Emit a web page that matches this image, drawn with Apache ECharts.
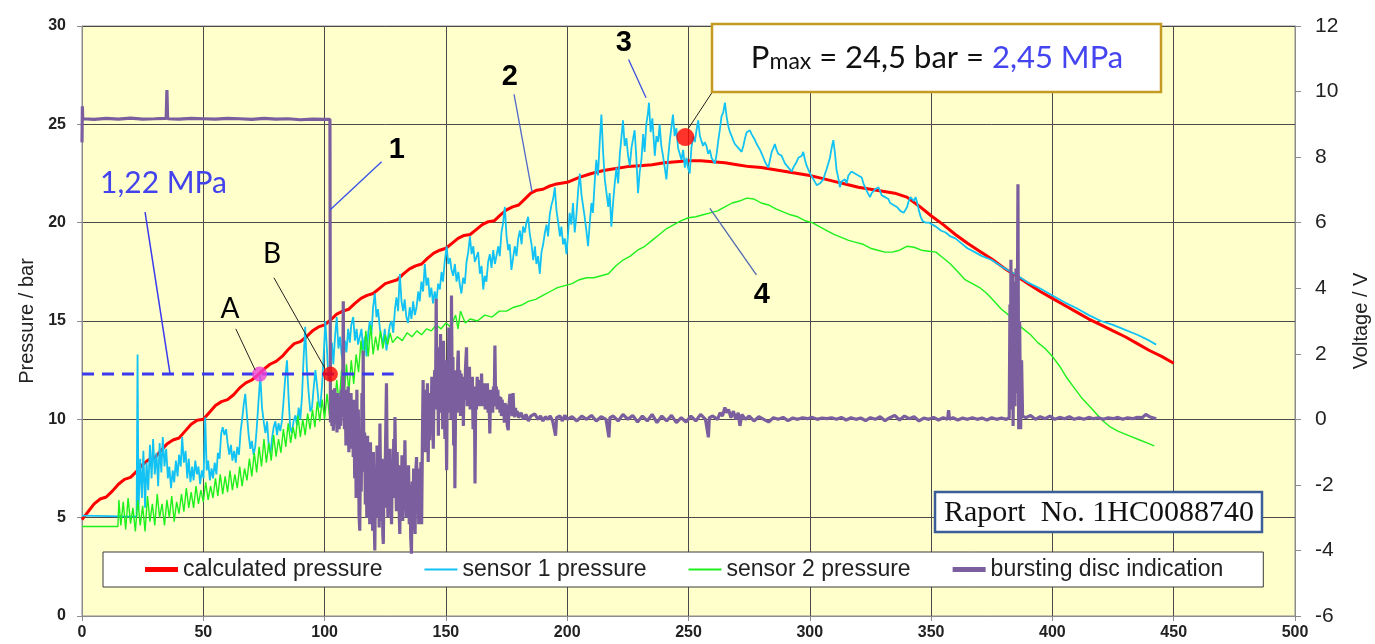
<!DOCTYPE html>
<html><head><meta charset="utf-8">
<script src="https://cdn.jsdelivr.net/npm/echarts@6/dist/echarts.min.js"></script>
<style>html,body{margin:0;padding:0;background:#fff;overflow:hidden}#c{width:1375px;height:644px}</style>
</head><body><div id="c"></div>
<script>
// ---- data: [time s, value] ----
const calcPressure = [[0,4.9],[2.5,5.3],[5,5.7],[7.5,5.95],[10,6.05],[12.5,6.35],[15,6.7],[17.5,6.95],[20,7.05],[22.5,7.35],[25,7.7],[27.5,7.95],[30,8.05],[32.5,8.4],[35,8.75],[37.5,8.95],[40,9.05],[42.5,9.4],[45,9.75],[47.5,9.95],[50,10.0],[52.5,10.35],[55,10.7],[57.5,10.9],[60,11.0],[62.5,11.25],[65,11.6],[67.5,11.85],[70,12.0],[72.5,12.25],[75,12.55],[77.5,12.8],[80,12.95],[82.5,13.2],[85,13.55],[87.5,13.85],[90,13.95],[92.5,14.2],[95,14.5],[97.5,14.7],[100,14.8],[102.5,15.05],[105,15.35],[107.5,15.5],[110,15.6],[112.5,15.9],[115,16.15],[117.5,16.3],[120,16.4],[122.5,16.65],[125,16.9],[127.5,17.0],[130,17.1],[132.5,17.4],[135,17.65],[137.5,17.8],[140,17.9],[142.5,18.2],[145,18.45],[147.5,18.6],[150,18.7],[152.5,18.95],[155,19.2],[157.5,19.35],[160,19.4],[162.5,19.65],[165,19.9],[167.5,20.05],[170,20.1],[172.5,20.4],[175,20.65],[177.5,20.8],[180,20.9],[182.5,21.2],[185,21.5],[187.5,21.65],[190,21.7],[192.5,21.85],[195,21.95],[197.5,22.0],[200,22.05],[205,22.3],[210,22.5],[215,22.65],[220,22.75],[225,22.85],[230,22.9],[235,22.95],[240,23.05],[245,23.1],[250,23.15],[255,23.15],[260,23.1],[265,23.05],[270,22.95],[275,22.85],[280,22.8],[285,22.7],[290,22.6],[295,22.5],[300,22.4],[305,22.25],[310,22.1],[315,21.95],[320,21.8],[325,21.7],[330,21.6],[335,21.5],[340,21.3],[345,20.85],[350,20.35],[355,19.9],[360,19.4],[365,18.95],[370,18.55],[375,18.15],[380,17.7],[385,17.3],[390,16.9],[395,16.5],[400,16.15],[405,15.8],[410,15.45],[415,15.1],[420,14.8],[425,14.5],[430,14.2],[435,13.85],[440,13.5],[445,13.2],[450,12.85]];

const sensor1Pressure = [[0,5.1],[22.5,5.05],[22.9,13.3],[23.3,5.4],[24,8.0],[24.7,6.0],[25.3,8.4],[26,5.5],[26.6,7.8],[27.3,6.4],[28,8.7],[28.7,7.0],[29.3,9.0],[30,7.2],[30.7,8.3],[31.4,6.6],[32,8.8],[32.7,7.3],[33.3,9.1],[34,7.6],[34.7,8.5],[35.4,7.0],[36,7.6],[36.7,6.5],[37.4,7.4],[38,6.8],[38.7,7.9],[39.4,7.1],[40,8.2],[40.7,7.6],[41.3,9.1],[42,7.8],[42.7,8.4],[43.4,7.0],[44,8.0],[44.7,6.8],[45.4,7.6],[46,6.9],[46.7,7.9],[47.4,7.2],[48,7.6],[48.7,6.7],[49.4,7.4],[50.1,7.0],[50.8,10.1],[51.4,7.4],[52,7.9],[52.7,6.9],[53.4,7.5],[54,7.0],[54.7,7.8],[55.4,7.2],[56,8.3],[56.7,8.0],[57.4,9.3],[58,9.6],[58.7,9.2],[59.4,9.5],[60,8.8],[60.7,8.2],[61.4,8.7],[62,7.9],[62.7,8.4],[63.4,7.8],[64,8.6],[64.7,8.2],[65.4,9.4],[66,10.0],[66.7,10.8],[67.3,11.3],[68,10.2],[68.7,9.2],[69.4,8.5],[70,8.9],[70.7,8.2],[71.4,8.6],[72,9.5],[72.7,10.8],[73.5,12.25],[74.2,10.6],[75,9.8],[75.6,9.3],[76.3,9.9],[77,8.6],[77.7,8.3],[78.3,9.0],[79,9.6],[79.7,9.9],[80.4,9.2],[81,9.8],[81.7,9.4],[82.4,9.9],[83,10.8],[83.7,12.0],[84.5,13.0],[85.2,11.0],[85.8,9.6],[86.5,9.3],[87.2,9.9],[88,10.2],[88.6,9.7],[89.3,10.6],[90,10.0],[90.7,11.2],[91.3,13.0],[92,14.7],[92.7,12.6],[93.4,11.4],[94.1,10.4],[94.8,10.6],[95.5,11.6],[96.2,12.5],[96.9,11.7],[97.6,10.8],[98.2,10.6],[99,11.8],[99.6,13.2],[100.3,15.0],[101,13.5],[101.6,12.0],[102.3,12.3],[103,13.9],[103.6,12.8],[104.3,14.2],[105,15.2],[105.7,13.6],[106.4,14.2],[107,13.3],[107.7,12.8],[108.4,14.0],[109,13.4],[109.7,14.6],[110.4,13.9],[111,14.8],[111.8,15.2],[112.5,14.0],[113.2,14.6],[113.8,13.8],[114.5,13.8],[115.2,14.6],[115.9,13.5],[116.6,14.2],[117.3,13.2],[118,14.4],[118.6,15.0],[119.3,14.3],[120,15.7],[120.7,16.4],[121.4,15.2],[122,15.6],[122.8,14.6],[123.5,14.5],[124.1,13.8],[124.8,14.6],[125.5,13.5],[126.2,14.2],[126.9,14.8],[127.6,15.0],[128.3,14.4],[129,15.6],[129.6,16.2],[130.3,15.5],[131,17.4],[131.7,16.0],[132.4,15.5],[133,16.1],[133.7,15.2],[134.4,14.9],[135.1,15.7],[135.8,15.1],[136.5,16.0],[137.2,15.3],[137.9,15.7],[138.6,16.5],[139.2,16.0],[139.9,17.0],[140.6,16.5],[141.3,17.9],[142,16.8],[142.7,17.2],[143.3,16.2],[144,16.7],[144.7,15.9],[145.4,16.5],[146.1,16.0],[146.8,16.9],[147.5,16.6],[148.2,17.5],[148.8,17.0],[149.5,18.0],[150.3,18.8],[151,17.9],[151.7,18.2],[152.3,17.6],[153,17.3],[153.7,17.9],[154.4,17.0],[155.1,17.5],[155.8,16.8],[156.4,16.4],[157.1,17.2],[157.8,16.9],[158.5,18.0],[159.2,18.5],[159.9,19.3],[160.6,18.4],[161.3,18.8],[161.9,18.0],[162.6,17.9],[163.3,18.5],[164,17.4],[164.7,17.8],[165.4,16.6],[166,17.3],[166.7,17.0],[167.4,18.0],[168.1,18.4],[168.8,17.7],[169.5,18.6],[170.2,17.9],[170.9,17.9],[171.6,18.8],[172.2,18.3],[172.9,19.5],[173.6,20.0],[174.3,20.8],[175,19.3],[175.7,18.6],[176.3,18.9],[177,17.6],[177.7,18.2],[178.4,18.8],[179.1,18.3],[179.8,19.2],[180.5,19.6],[181.2,18.9],[181.8,19.8],[182.5,19.5],[183.2,20.0],[183.9,20.3],[184.6,19.4],[185.3,18.9],[186,18.1],[186.7,18.8],[187.3,17.9],[188,18.3],[188.7,17.4],[189.4,18.5],[190.1,18.9],[190.8,19.5],[191.5,19.9],[192.1,19.3],[192.8,20.4],[193.5,20.9],[194.2,21.2],[194.9,21.8],[195.6,20.6],[196.3,20.0],[197,19.3],[197.6,19.8],[198.3,18.9],[199,19.2],[199.7,18.4],[200.4,19.5],[201,20.5],[201.7,19.9],[202.4,21.0],[203.1,19.5],[203.8,20.4],[204.5,21.6],[205.2,22.5],[205.9,21.4],[206.6,21.5],[207.2,20.3],[207.9,19.6],[208.6,18.8],[209.3,20.0],[210,21.0],[210.6,20.5],[211.3,22.0],[212,23.2],[212.7,22.4],[213.4,24.1],[214.1,25.5],[214.8,23.6],[215.5,22.2],[216.2,22.2],[216.9,20.8],[217.5,21.5],[218.2,19.8],[218.9,21.0],[219.6,22.0],[220.3,22.8],[221,22.0],[221.7,23.5],[222.4,24.4],[223,25.2],[223.7,23.9],[224.4,24.3],[225.1,23.4],[225.8,22.9],[226.5,23.8],[227.2,24.3],[227.8,24.7],[228.5,23.3],[229.2,21.5],[229.9,22.6],[230.6,23.2],[231.3,24.5],[231.9,23.6],[232.6,25.0],[233.3,25.6],[233.7,26.1],[234.4,24.6],[235.1,25.3],[235.8,24.0],[236.1,23.4],[236.8,24.4],[237.5,24.1],[238.1,25.0],[238.8,23.9],[239.5,23.4],[240.2,22.8],[240.9,22.2],[241.6,23.3],[242.3,24.2],[243,24.9],[243.6,25.5],[244.3,24.4],[245,24.8],[245.7,23.8],[246.4,23.9],[247.1,23.2],[247.8,23.7],[248.5,22.8],[249.2,23.3],[249.8,22.8],[250.5,22.5],[251.2,23.8],[251.9,24.4],[252.6,24.1],[253.3,24.7],[254,25.2],[254.7,24.4],[255.3,24.3],[256,23.9],[256.7,24.1],[257.4,23.9],[258.1,23.5],[258.8,23.7],[259.5,23.3],[260.2,23.4],[260.9,23.0],[261.6,23.5],[262.3,24.2],[263,24.8],[263.6,25.4],[264.3,25.6],[265,26.1],[265.7,25.4],[266.4,24.9],[267.1,24.6],[267.8,24.4],[268.4,24.2],[269.1,24.0],[269.8,23.9],[270.5,23.8],[271.2,23.7],[271.9,23.6],[272.6,23.9],[273.3,24.3],[274,24.6],[274.6,24.5],[275.3,24.7],[276,24.5],[276.7,24.6],[277.4,24.2],[278.1,24.0],[278.8,23.9],[279.5,23.7],[280.2,23.5],[280.9,23.3],[281.5,23.1],[282.2,23.0],[282.9,22.8],[283.6,23.2],[284.3,23.6],[285,23.8],[285.6,24.0],[286.3,23.7],[287,23.5],[287.7,23.5],[288.4,23.4],[289.1,23.2],[289.8,23.0],[290.5,22.9],[291.2,22.8],[291.9,22.7],[292.5,22.6],[293.2,22.8],[293.9,22.9],[294.6,23.1],[295.3,23.3],[296,23.2],[296.7,23.4],[297.3,23.6],[298,23.2],[298.7,22.9],[299.4,22.7],[300.1,22.5],[300.8,22.4],[301.5,22.2],[302.2,22.1],[302.9,21.9],[303.5,21.8],[304.2,22.0],[304.9,21.9],[305.6,22.2],[306.3,22.5],[306.9,22.7],[307.6,23.0],[308.3,23.3],[309,23.8],[309.7,24.2],[310.4,23.5],[311,22.7],[311.7,22.3],[312.4,21.8],[313.1,22.1],[313.8,22.0],[314.5,22.2],[315.2,22.0],[315.9,22.4],[316.6,22.3],[317.2,22.6],[317.9,22.7],[318.6,22.5],[319.3,22.6],[320,22.4],[320.7,22.5],[321.4,22.3],[322.1,22.0],[322.8,21.8],[323.5,21.6],[324.1,21.5],[324.8,21.3],[325.5,21.5],[326.2,21.6],[326.9,21.7],[327.6,21.6],[328.3,21.8],[329,21.6],[329.6,21.4],[330.3,21.5],[331,21.3],[331.7,21.2],[332.4,21.2],[333.1,21.0],[333.8,21.0],[334.5,20.9],[335.2,20.9],[335.9,20.8],[336.6,20.7],[337.3,20.6],[338,20.5],[338.7,20.5],[339.4,20.6],[340.1,20.8],[340.8,21.1],[341.5,21.3],[342.2,21.4],[342.9,21.1],[343.6,21.3],[344.3,21.0],[345,20.6],[345.7,20.3],[346.4,20.1],[347.1,20.2],[347.8,20.0],[348.5,19.9],[349.2,20.0],[350,19.9],[352,19.8],[354,19.6],[356,19.5],[358,19.3],[360,19.2],[362,19.0],[365,18.7],[368,18.5],[371,18.3],[375,18.1],[380,17.7],[385,17.35],[390,16.95],[395,16.65],[400,16.3],[405,15.95],[410,15.65],[415,15.3],[420,15.0],[425,14.8],[430,14.55],[435,14.3],[440,14.0],[442.8,13.8]];

const sensor2Pressure = [[0,4.55],[14.8,4.55],[15.2,5.9],[16,4.6],[17,5.8],[18,4.4],[19,6.0],[20,4.7],[21,5.5],[22,4.3],[23,5.9],[24,4.6],[25,5.6],[26,4.3],[27,6.1],[28,4.8],[29,5.7],[30,4.6],[31,6.2],[32,5.0],[33,5.7],[34,4.6],[35,5.9],[36,5.0],[37,6.1],[38,4.8],[39,5.8],[40,5.2],[41,6.2],[42,5.3],[43,6.5],[44,5.5],[45,6.3],[46,5.5],[47,6.6],[48,5.7],[49,6.4],[50,5.8],[51,6.8],[52,5.9],[53,6.6],[54,6.0],[55,7.0],[56,6.1],[57,7.2],[58,6.2],[59,7.1],[60,6.3],[61,7.4],[62,6.4],[63,7.2],[64,6.5],[65,7.6],[66,6.6],[67,7.5],[68,6.9],[69,8.0],[70,7.1],[71,8.3],[72,7.3],[73,8.6],[74,7.6],[75,9.0],[76,7.8],[77,8.8],[78,7.9],[79,9.2],[80,8.1],[81,9.0],[82,8.3],[83,9.5],[84,8.6],[85,9.8],[86,8.8],[87,9.6],[88,9.0],[89,10.2],[90,9.1],[91,10.0],[92,9.2],[93,10.3],[94,9.5],[95,10.5],[96,9.6],[97,10.9],[98,9.9],[99,11.0],[100,10.0],[101,11.3],[102,10.2],[103,11.4],[104,10.6],[105,12.0],[106,10.8],[107,12.5],[108,11.0],[109,12.8],[110,11.4],[111,13.0],[112,11.8],[113,13.3],[114,12.4],[115,14.0],[116,12.8],[117,14.5],[118,13.2],[119,14.8],[120,13.3],[121,14.2],[122,13.5],[123,14.5],[124,13.6],[125,14.3],[126,13.8],[127,14.4],[128,13.9],[130,14.2],[132,14.0],[134,14.4],[136,14.2],[138,14.5],[140,14.3],[142,14.6],[144,14.5],[146,14.8],[148,14.6],[150,14.9],[152,14.7],[154,15.3],[155,14.6],[156,15.5],[158,14.9],[160,15.1],[163,15.0],[166,15.3],[169,15.2],[172,15.5],[175,15.5],[178,15.7],[181,15.8],[184,16.0],[187,16.1],[190,16.3],[193,16.5],[196,16.7],[199,16.8],[202,16.9],[205,17.1],[208,17.2],[211,17.2],[214,17.3],[217,17.4],[220,17.8],[223,18.1],[226,18.3],[229,18.6],[232,18.8],[235,19.1],[238,19.4],[241,19.7],[244,19.9],[247,20.1],[250,20.25],[253,20.3],[256,20.4],[259,20.5],[262,20.6],[265,20.8],[268,21.0],[271,21.1],[274,21.25],[277,21.2],[280,21.0],[283,20.9],[286,20.7],[289,20.55],[292,20.4],[295,20.3],[298,20.1],[301,20.0],[304,19.8],[307,19.6],[310,19.4],[313,19.25],[316,19.1],[319,19.0],[322,18.9],[325,18.7],[328,18.6],[331,18.5],[334,18.5],[337,18.6],[340,18.8],[343,18.75],[346,18.6],[349,18.55],[352,18.5],[355,18.2],[358,17.9],[361,17.5],[364,17.1],[367,16.9],[370,16.7],[373,16.4],[376,16.0],[379,15.6],[382,15.3],[385,14.9],[388,14.6],[391,14.3],[394,13.9],[397,13.6],[400,13.2],[403,12.7],[406,12.1],[409,11.6],[412,11.1],[415,10.7],[418,10.3],[421,9.9],[424,9.6],[427,9.4],[430,9.25],[433,9.1],[436,8.95],[439,8.8],[442,8.65]];

const burstingDiscVoltage = [[0,8.45],[0.15,9.55],[0.3,9.17],[5,9.15],[10,9.18],[15,9.16],[20,9.19],[25,9.16],[30,9.17],[34.7,9.18],[35,10.05],[35.3,9.17],[40,9.16],[45,9.18],[50,9.17],[55,9.16],[60,9.18],[65,9.17],[70,9.15],[75,9.18],[80,9.16],[85,9.17],[90,9.14],[95,9.16],[100,9.15],[102.2,9.15],
[102.4,-0.1],[102.7,0.7],[103.0,-0.2],[103.3,0.9],[103.6,-0.35],[103.9,0.5],[104.2,0.95],[104.5,-0.1],[104.8,0.6],[105.1,-0.4],[105.4,0.8],[105.7,0.1],[106.0,-0.3],[106.3,0.7],[106.6,-0.2],[106.9,0.9],[107.2,0.1],[107.5,1.2],[107.7,3.6],[107.9,0.4],[108.2,-0.3],[108.5,0.9],[108.8,-0.8],[109.1,0.5],[109.4,-0.4],[109.7,1.0],[110.0,-1.0],[110.3,0.3],[110.6,-0.6],[110.9,0.8],[111.2,-0.9],[111.5,0.4],[111.8,-1.15],[112.1,0.6],[112.4,-1.8],[112.7,0.2],[113.0,-2.4],[113.3,0.9],[113.6,-1.5],[113.9,0.3],[114.2,-2.9],[114.5,-3.4],[114.8,-0.6],[115.1,-2.2],[115.4,0.8],[115.7,-1.0],[115.9,2.1],[116.2,-1.6],[116.5,-0.4],[116.8,-2.6],[117.1,-0.8],[117.4,-3.0],[117.7,-0.5],[118.0,-2.2],[118.3,-1.0],[118.6,-3.2],[118.9,-0.7],[119.2,-2.5],[119.5,-1.3],[119.8,-3.4],[120.1,-1.0],[120.4,-2.8],[120.7,-4.0],[121.0,-1.5],[121.3,-3.0],[121.6,-0.8],[121.9,-2.9],[122.2,-1.8],[122.5,-3.3],[122.8,-0.13],[123.1,-2.1],[123.4,-3.1],[123.7,-1.2],[124.0,-3.5],[124.2,-3.8],[124.5,-1.6],[124.8,-2.7],[125.1,-0.9],[125.5,1.1],[125.8,-1.4],[126.1,-3.0],[126.4,-1.2],[126.7,-2.7],[127.0,-0.9],[127.3,-2.5],[127.6,-3.2],[127.9,-1.3],[128.2,-2.4],[128.5,-0.6],[128.8,-2.0],[129.0,0.07],[129.3,-1.6],[129.6,-2.8],[129.9,-1.0],[130.2,-2.5],[130.5,-1.4],[130.8,-3.0],[131.0,-3.5],[131.3,-1.6],[131.6,-2.8],[131.9,-1.1],[132.2,-3.1],[132.5,-1.7],[132.8,-2.6],[133.1,-0.64],[133.4,-2.2],[133.7,-3.0],[134.0,-1.5],[134.3,-2.7],[134.6,-1.4],[134.9,-3.2],[135.2,-2.0],[135.5,-3.6],[135.8,-4.1],[136.1,-1.9],[136.4,-3.3],[136.7,-1.5],[137.0,-2.9],[137.3,-3.5],[137.6,-1.6],[137.9,-1.15],[138.2,-2.8],[138.5,-1.5],[138.8,-3.2],[139.1,-2.0],[139.4,-2.6],[139.7,-1.3],[140.0,-3.2],[140.3,-0.8],[140.6,1.2],[140.9,-0.5],[141.2,0.6],[141.5,-1.0],[141.8,0.9],[142.1,-0.3],[142.4,1.1],[142.7,-1.3],[143.0,0.4],[143.3,-0.64],[143.6,0.8],[143.9,-0.4],[144.2,1.3],[144.5,0.2],[144.8,-0.9],[145.1,0.9],[145.4,1.5],[145.7,0.3],[146.0,3.68],[146.3,0.6],[146.6,2.2],[146.9,-0.5],[147.2,1.6],[147.5,0.2],[147.8,2.6],[148.1,0.4],[148.4,1.9],[148.7,-0.3],[149.0,2.4],[149.3,0.7],[149.6,-0.6],[149.9,1.8],[150.3,-1.55],[150.6,1.4],[150.9,0.2],[151.2,2.8],[151.5,0.5],[151.8,1.6],[152.1,0.0],[152.3,3.78],[152.6,0.8],[152.9,1.9],[153.2,-0.8],[153.5,1.2],[153.7,-2.1],[154.0,0.6],[154.3,1.5],[154.6,0.2],[154.9,1.8],[155.1,2.1],[155.4,0.5],[155.7,1.5],[156.0,0.1],[156.3,1.4],[156.6,0.5],[156.9,1.2],[157.2,-0.2],[157.5,1.3],[157.8,0.6],[158.1,1.6],[158.5,2.2],[158.8,0.4],[159.1,1.4],[159.4,0.6],[159.7,1.6],[160.0,0.3],[160.3,1.2],[160.6,0.5],[160.9,1.3],[161.2,-0.3],[161.5,1.0],[161.8,0.3],[162.0,-1.96],[162.3,0.9],[162.6,0.3],[162.9,1.3],[163.2,0.6],[163.5,1.2],[163.8,0.4],[164.1,1.2],[164.4,0.6],[164.7,1.4],[165.0,0.4],[165.3,1.0],[165.6,0.5],[165.9,1.1],[166.2,0.3],[166.5,0.9],[166.8,0.4],[167.1,1.1],[167.4,0.2],[167.7,0.9],[168.1,-0.43],[168.4,0.7],[168.7,0.3],[169.0,0.9],[169.3,0.2],[169.6,1.0],[169.9,0.4],[170.2,2.25],[170.5,0.5],[170.8,1.0],[171.1,0.3],[171.4,0.9],[171.7,0.4],[172.0,0.7],[172.3,0.2],[172.6,0.68],[172.9,0.1],[173.2,0.6],[173.5,0.2],[173.8,0.5],[174.1,-0.1],[174.4,0.5],[174.7,0.1],[175.0,0.45],[175.3,-0.2],[175.7,-0.33],[176.0,0.4],[176.4,0.78],[176.7,0.2],[177.0,0.5],[177.3,0.1],[177.7,0.8],[178.0,0.2],[178.4,0.07],[178.7,0.35],[179.0,0.1],[179.4,0.25],[180.0,0.05],
[181,0.2],[182,0.0],[183,0.15],[184,-0.05],[185,0.1],[186.6,0.17],[188,0.0],[189,0.1],[190,-0.05],[191,0.08],[192,0.0],[193,0.1],[194,-0.05],[195.2,-0.5],[195.6,0.05],[197,0.1],[198,-0.05],[199,0.12],[200,0.0],[202,0.08],[204,-0.05],[206,0.1],[208,0.0],[210,0.12],[212,-0.05],[214,0.08],[216,0.0],[217.2,-0.55],[217.6,0.05],[219,0.1],[221,-0.05],[223,0.15],[225,0.0],[227,0.12],[229,-0.08],[231,0.1],[233,-0.05],[235,0.15],[237,-0.1],[239,0.1],[241,-0.05],[243,0.12],[245,-0.1],[247,0.05],[249,-0.08],[251,0.1],[253,-0.05],[255,0.15],[257,0.0],[258.2,-0.55],[258.6,0.05],[260,0.1],[262,0.0],[263,0.2],[264,0.1],[265,0.36],[265.7,0.2],[266.5,0.3],[267.5,0.05],[268.5,0.25],[269.5,0.0],[270.5,0.2],[271.2,-0.2],[272,0.15],[273.5,0.0],[275,0.1],[277,-0.05],[279,0.08],[281,0.0],[283,-0.08],[285,0.05],[287,0.0],[289,0.06],[291,-0.04],[293,0.04],[295,0.0],[297,0.05],[299,0.02],[301,0.06],[303,0.0],[305,0.04],[307,0.02],[309,0.05],[311,0.0],[313,0.06],[315,-0.02],[317,0.05],[319,0.0],[321,0.04],[323,-0.04],[325,0.05],[327,0.0],[329,0.08],[331,-0.04],[333,0.05],[335,0.12],[337,-0.02],[339,0.1],[341,0.02],[343,0.08],[345,-0.05],[347,0.04],[349,0.0],[351,0.06],[353,-0.02],[355,0.05],[356.8,0.0],[357.2,0.28],[357.6,0.0],[359,0.05],[361,-0.02],[363,0.04],[365,0.0],[367,0.05],[369,0.0],[371,0.04],[373,-0.02],[375,0.05],[377,0.0],[379,0.04],[381,0.0],[382.2,0.05],[382.5,3.5],[382.7,0.3],[382.9,4.87],[383.2,0.8],[383.5,4.4],[383.8,-0.2],[384.2,4.2],[384.6,0.4],[385,4.6],[385.4,0.8],[385.8,7.17],[386.1,-0.3],[386.5,3.0],[386.9,-0.3],[387.3,1.8],[387.7,0.1],[389,0.05],[391,0.12],[393,0.0],[395,0.08],[397,0.02],[399,0.1],[401,0.0],[403,0.06],[405,0.02],[407,0.08],[409,0.0],[411,0.05],[413,0.0],[415,0.06],[417,0.02],[419,0.05],[421,0.0],[423,0.05],[425,0.02],[427,0.06],[429,0.0],[431,0.05],[433,0.02],[435,0.06],[437,0.05],[438.5,0.15],[440,0.08],[442.8,0.02]];

const seriesNames = ['calculated pressure','sensor 1 pressure','sensor 2 pressure','bursting disc indication'];
const refPressure = 12.3;          // 1,22 MPa level (bar)
const refLine = [[0, refPressure], [128.5, refPressure]];
const pointA = [73.2, 12.3];
const pointB = [102.4, 12.3];
const pointPmax = [248.7, 24.35];

// ---- chart ----
const chart = echarts.init(document.getElementById('c'), null, {renderer:'canvas', width:1375, height:644});
const lineCommon = {type:'line', symbol:'none', showSymbol:false, animation:false, silent:true};
const thickIcon = 'path://M0,0L0.01,0M0,14L0.01,14M0,4.5H33V9.5H0Z';
const thinIcon = 'path://M0,0L0.01,0M0,14L0.01,14M0,6H33V8H0Z';
const colors = ['#FF0000','#12C2F4','#1EF01E','#7A5E9E'];
const option = {
  animation:false,
  backgroundColor:'#ffffff',
  grid:{left:82, right:80, top:26, bottom:28, show:true, backgroundColor:'#FFFFCC', borderColor:'#8c8c8c', borderWidth:1, outerBoundsMode:'none', containLabel:false},
  legend:{
    left:103, top:552, orient:'horizontal',
    backgroundColor:'#ffffff', borderColor:'#3a3a3a', borderWidth:1,
    padding:[6,40,6,42], itemGap:42, itemWidth:33, itemHeight:14,
    textStyle:{fontSize:23, fontFamily:'Liberation Sans, Arial, sans-serif', color:'#222'},
    data:[
      {name:seriesNames[0], icon:thickIcon, itemStyle:{color:colors[0], borderWidth:0}},
      {name:seriesNames[1], icon:thinIcon, itemStyle:{color:colors[1], borderWidth:0}},
      {name:seriesNames[2], icon:thinIcon, itemStyle:{color:colors[2], borderWidth:0}},
      {name:seriesNames[3], icon:thickIcon, itemStyle:{color:colors[3], borderWidth:0}}
    ]
  },
  xAxis:{type:'value', min:0, max:500, interval:50,
    axisLine:{show:true, lineStyle:{color:'#8c8c8c'}},
    axisTick:{show:true, length:5, lineStyle:{color:'#8c8c8c'}},
    axisLabel:{fontSize:16, fontWeight:'bold', color:'#222', margin:9, fontFamily:'Liberation Sans, Arial'},
    splitLine:{show:true, lineStyle:{color:'#4a4a4a', width:1}}},
  yAxis:[
    {type:'value', min:0, max:30, interval:5, position:'left',
      name:'Pressure / bar', nameLocation:'middle', nameRotate:90, nameGap:44,
      nameTextStyle:{fontSize:20, color:'#222', fontFamily:'Liberation Sans, Arial'},
      axisLine:{show:true, lineStyle:{color:'#8c8c8c'}},
      axisTick:{show:true, length:5, lineStyle:{color:'#8c8c8c'}},
      axisLabel:{fontSize:16, fontWeight:'bold', color:'#222', margin:16, fontFamily:'Liberation Sans, Arial'},
      splitLine:{show:true, lineStyle:{color:'#4a4a4a', width:1}}},
    {type:'value', min:-6, max:12, interval:2, position:'right',
      name:'Voltage / V', nameLocation:'middle', nameRotate:90, nameGap:56,
      nameTextStyle:{fontSize:20, color:'#222', fontFamily:'Liberation Sans, Arial'},
      axisLine:{show:true, lineStyle:{color:'#8c8c8c'}},
      axisTick:{show:true, length:6, lineStyle:{color:'#8c8c8c'}},
      axisLabel:{fontSize:21, color:'#222', margin:20, fontFamily:'Liberation Sans, Arial'},
      splitLine:{show:false}}
  ],
  series:[
    Object.assign({}, lineCommon, {name:seriesNames[0], data:calcPressure, z:2, lineStyle:{color:colors[0], width:3}, itemStyle:{color:colors[0]}}),
    Object.assign({}, lineCommon, {name:seriesNames[1], data:sensor1Pressure, z:3, lineStyle:{color:colors[1], width:1.8}, itemStyle:{color:colors[1]}}),
    Object.assign({}, lineCommon, {name:seriesNames[2], data:sensor2Pressure, z:3, lineStyle:{color:colors[2], width:1.4}, itemStyle:{color:colors[2]}}),
    Object.assign({}, lineCommon, {name:seriesNames[3], data:burstingDiscVoltage, yAxisIndex:1, z:4, lineStyle:{color:colors[3], width:3.2}, itemStyle:{color:colors[3]}}),
    Object.assign({}, lineCommon, {name:'ref', data:refLine, z:5, lineStyle:{color:'#3B3BEE', width:3, type:[12,8]}}),
    {type:'scatter', name:'points', silent:true, z:6, animation:false,
      data:[
        {value:pointA, symbolSize:15, itemStyle:{color:'#F040D8'}},
        {value:pointB, symbolSize:15, itemStyle:{color:'#FF0000'}},
        {value:pointPmax, symbolSize:18, itemStyle:{color:'#FF0000'}}
      ]}
  ]
};
chart.setOption(option);

// ---- annotations (text anchors and leader lines in data coordinates) ----
const notes = [
  {text:'1', at:[129.8,23.7], font:'bold 29px "Liberation Sans", Arial', color:'#000', leader:[[123.5,23.1],[102.2,20.64]], lc:'#3550E8', lw:1.3},
  {text:'2', at:[176.3,27.4], font:'bold 29px "Liberation Sans", Arial', color:'#000', leader:[[178.1,26.52],[185.5,21.57]], lc:'#5068C8', lw:1.3},
  {text:'3', at:[223.3,29.15], font:'bold 29px "Liberation Sans", Arial', color:'#000', leader:[[225.3,28.3],[232.5,26.35]], lc:'#3A4FE0', lw:1.3},
  {text:'4', at:[280.2,16.3], font:'bold 29px "Liberation Sans", Arial', color:'#000', leader:[[258.8,20.73],[278,17.34]], lc:'#5068B0', lw:1.3},
  {text:'A', at:[61,15.6], font:'28px Lato, "Open Sans", sans-serif', color:'#000', leader:[[63.4,14.6],[71.4,12.5]], lc:'#222', lw:1},
  {text:'B', at:[78.3,18.4], font:'28px Lato, "Open Sans", sans-serif', color:'#000', leader:[[79.1,17.2],[100.1,12.6]], lc:'#222', lw:1},
  {text:'1,22 MPa', at:[33.6,22.0], font:'30px Lato, "Open Sans", sans-serif', color:'#4343EE', leader:[[26,20.54],[36.3,12.3]], lc:'#3B3BEE', lw:1.5}
];
const toPx = v => chart.convertToPixel({xAxisIndex:0, yAxisIndex:0}, v);
const graphics = [];
notes.forEach(n => {
  const a = toPx(n.leader[0]), b = toPx(n.leader[1]);
  graphics.push({type:'line', silent:true, z:100, shape:{x1:a[0], y1:a[1], x2:b[0], y2:b[1]}, style:{stroke:n.lc, lineWidth:n.lw}});
  const p = toPx(n.at);
  graphics.push({type:'text', silent:true, z:101, x:p[0], y:p[1], style:{text:n.text, font:n.font, fill:n.color, align:'center', verticalAlign:'middle'}});
});
// Pmax callout
const pmaxLeaderStart = toPx([259.7,26.62]), pmaxLeaderEnd = toPx([250,24.8]);
graphics.push({type:'line', silent:true, z:100, shape:{x1:pmaxLeaderStart[0], y1:pmaxLeaderStart[1], x2:pmaxLeaderEnd[0], y2:pmaxLeaderEnd[1]}, style:{stroke:'#222', lineWidth:1}});
graphics.push({type:'rect', silent:true, z:102, shape:{x:712, y:24, width:449, height:68}, style:{fill:'#fff', stroke:'#C49A22', lineWidth:2.5}});
graphics.push({type:'text', silent:true, z:103, x:937, y:58, style:{
  text:'{a|P}{b|max}{a| = 24,5 bar = }{c|2,45 MPa}', align:'center', verticalAlign:'middle',
  rich:{a:{fontSize:31, fontFamily:'Lato', fill:'#111'}, b:{fontSize:23, fontFamily:'Lato', fill:'#111', padding:[7,0,0,0]}, c:{fontSize:31, fontFamily:'Lato', fill:'#4545F0'}}
}});
// Report box
graphics.push({type:'rect', silent:true, z:102, shape:{x:935, y:492, width:327, height:40}, style:{fill:'#fff', stroke:'#3B5E98', lineWidth:2.5}});
graphics.push({type:'text', silent:true, z:103, x:1099, y:513, style:{text:'Raport  No. 1HC0088740', font:'30px "Liberation Serif", "Times New Roman", serif', fill:'#111', align:'center', verticalAlign:'middle'}});
chart.setOption({graphic:graphics});
</script></body></html>
